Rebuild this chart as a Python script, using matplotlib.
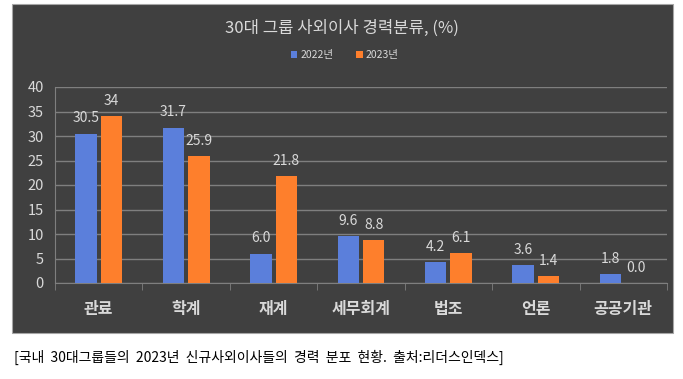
import numpy as np
import matplotlib.pyplot as plt
from matplotlib.patches import Rectangle

plt.rcParams['font.family'] = ['Noto Sans CJK KR', 'DejaVu Sans']

categories = ["관료", "학계", "재계", "세무회계", "법조", "언론", "공공기관"]
v2022 = [30.5, 31.7, 6.0, 9.6, 4.2, 3.6, 1.8]
v2023 = [34, 25.9, 21.8, 8.8, 6.1, 1.4, 0.0]
lab2022 = ["30.5", "31.7", "6.0", "9.6", "4.2", "3.6", "1.8"]
lab2023 = ["34", "25.9", "21.8", "8.8", "6.1", "1.4", "0.0"]
series_names = ["2022년", "2023년"]

BLUE = "#5b7fdb"
ORANGE = "#fe7f2c"
PANEL = "#404040"
TXT = "#d9d9d9"
GRID = "#7f7f7f"

fig = plt.figure(figsize=(6.83, 3.79), dpi=100)
fig.patch.set_facecolor("white")

# dark chart panel
fig.patches.append(Rectangle((12 / 683, 1 - 333 / 379), 661 / 683, 329 / 379,
                             transform=fig.transFigure, facecolor=PANEL,
                             edgecolor="#a6a6a6", linewidth=0.8, zorder=-10))

ax = fig.add_axes([55 / 683, 1 - 283 / 379, 612 / 683, 196 / 379])
ax.set_facecolor(PANEL)
ax.patch.set_alpha(0)

x = np.arange(len(categories))
w = 0.245
off = 0.145
b1 = ax.bar(x - off, v2022, w, color=BLUE, zorder=3, label=series_names[0])
b2 = ax.bar(x + off, v2023, w, color=ORANGE, zorder=3, label=series_names[1])

for bars, labs in ((b1, lab2022), (b2, lab2023)):
    for rect, lab in zip(bars, labs):
        ax.annotate(lab, (rect.get_x() + rect.get_width() / 2, rect.get_height()),
                    xytext=(0, 6), textcoords="offset points",
                    ha="center", va="bottom", color=TXT, fontsize=10)

ax.set_xlim(-0.5, len(categories) - 0.5)
ax.set_ylim(0, 40)
ax.set_yticks(range(0, 41, 5))
ax.yaxis.grid(True, color=GRID, linewidth=1)
ax.set_axisbelow(True)

ax.set_xticks(x)
ax.set_xticklabels(categories, fontsize=11.5, fontweight="bold", color=TXT)
ax.set_xticks(np.arange(-0.5, len(categories)), minor=True)
ax.tick_params(axis="x", which="major", length=0, pad=13)
ax.tick_params(axis="x", which="minor", length=5, color=GRID, direction="out")
ax.tick_params(axis="y", length=0, labelsize=10.5, labelcolor=TXT, pad=8)

for s in ("top", "right"):
    ax.spines[s].set_visible(False)
ax.spines["left"].set_color(GRID)
ax.spines["bottom"].set_color(GRID)

fig.text(0.5, 1 - 28 / 379, "30대 그룹 사외이사 경력분류, (%)", ha="center",
         va="center", color=TXT, fontsize=12)
fig.legend(handles=[b1, b2], loc="center", bbox_to_anchor=(0.505, 1 - 55 / 379),
           ncol=2, frameon=False, fontsize=7.5, labelcolor=TXT,
           handlelength=0.6, handleheight=0.6, handletextpad=0.3, columnspacing=2.2)

fig.text(14 / 683, 1 - 357 / 379,
         "[국내  30대그룹들의  2023년  신규사외이사들의  경력  분포  현황.  출처:리더스인덱스]",
         ha="left", va="center", color="black", fontsize=10)

fig.savefig("out.png", dpi=100)
